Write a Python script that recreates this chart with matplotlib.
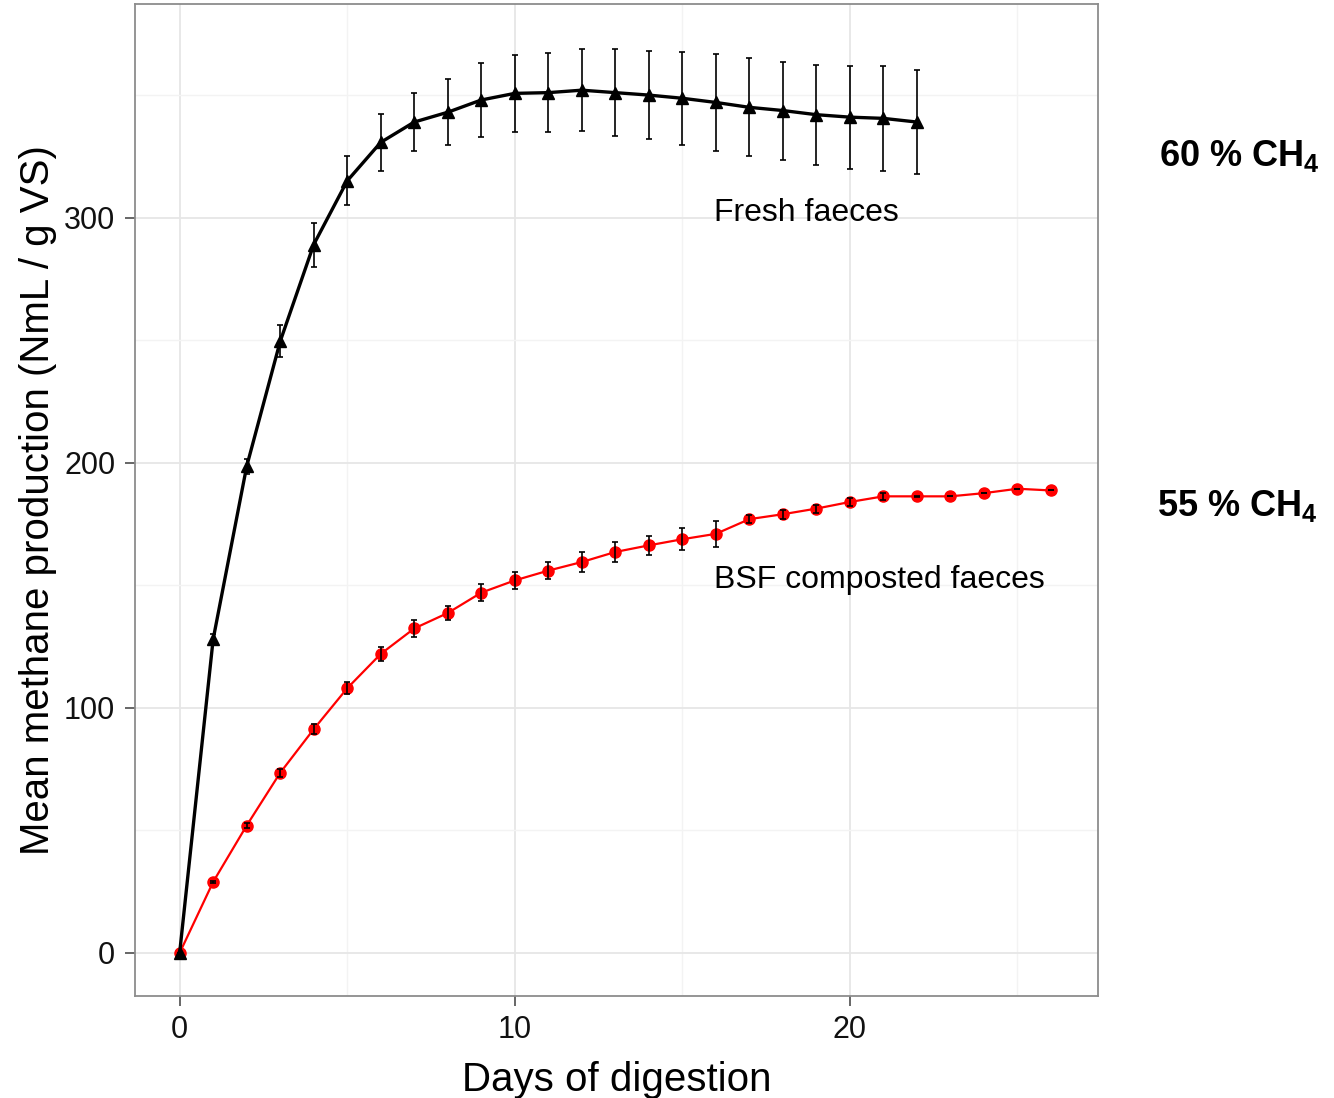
import numpy as np
import matplotlib
matplotlib.use("Agg")
import matplotlib.pyplot as plt

plt.rcParams['font.family'] = ['Liberation Sans', 'DejaVu Sans']
plt.rcParams['mathtext.fontset'] = 'custom'
plt.rcParams['mathtext.rm'] = 'Liberation Sans'
plt.rcParams['mathtext.bf'] = 'Liberation Sans:bold'
plt.rcParams['mathtext.default'] = 'bf'

# fresh faeces (black triangles)
fresh_days = list(range(0, 23))
fresh_mean = [0, 128, 198.5, 249.5, 289, 315, 330.7, 339, 343, 348, 350.7,
              351, 352, 351, 350, 348.7, 347, 345, 343.7, 342, 341, 340.5, 339]
fresh_err = [0, 2, 3, 6.5, 9, 10, 11.5, 12, 13.5, 15, 15.8,
             16, 16.7, 17.7, 18, 19, 19.7, 20, 20, 20.4, 21, 21.3, 21.3]

# BSF composted faeces (red circles)
bsf_days = list(range(0, 27))
bsf_mean = [0, 29, 52, 73.5, 91.3, 108, 122, 132.4, 138.7, 147, 152,
            156, 159.5, 163.6, 166.3, 168.8, 171, 177, 179, 181.3, 184,
            186.3, 186.3, 186.3, 187.6, 189.4, 188.7]
bsf_err = [0, 0.5, 1, 1.5, 2, 2.5, 3, 3.5, 3, 3.5, 3.5,
           3.6, 3.9, 4, 4, 4.4, 5.2, 1.7, 1.8, 1.6, 1.8, 1.4, 0.3,
           0, 0, 0, 0]

fig = plt.figure(figsize=(13.34, 10.98), dpi=100)
ax = fig.add_axes([0.101, 0.093, 0.722, 0.903])

ax.set_xlim(-1.34, 27.4)
ax.set_ylim(-17.5, 387)
ax.set_xticks([0, 10, 20])
ax.set_yticks([0, 100, 200, 300])
ax.set_xticks([5, 15, 25], minor=True)
ax.set_yticks([50, 150, 250, 350], minor=True)
ax.grid(which='major', color='#e6e6e6', lw=1.3, zorder=0)
ax.grid(which='minor', color='#f3f3f3', lw=1.0, zorder=0)
ax.tick_params(which='minor', length=0)
ax.tick_params(which='major', length=7, width=1.2, color='#4d4d4d',
               labelsize=22, labelcolor='#111111', pad=7)
for s in ax.spines.values():
    s.set_color('#8c8c8c')
    s.set_linewidth(1.3)

ax.plot(bsf_days, bsf_mean, color='red', lw=1.6, marker='o', ms=8,
        zorder=3)
ax.errorbar(bsf_days, bsf_mean, yerr=bsf_err, fmt='none', ecolor='black',
            elinewidth=1.2, capsize=2, capthick=1.2, zorder=4)

ax.plot(fresh_days, fresh_mean, color='black', lw=2.4, marker='^', ms=9,
        zorder=5)
ax.errorbar(fresh_days, fresh_mean, yerr=fresh_err, fmt='none',
            ecolor='black', elinewidth=1.2, capsize=2, capthick=1.2, zorder=6)

ax.text(15.95, 302, 'Fresh faeces', fontsize=23, ha='left', va='center')
ax.text(15.95, 152, 'BSF composted faeces', fontsize=23, ha='left',
        va='center')

ax.set_xlabel('Days of digestion', fontsize=29, labelpad=11)
ax.set_ylabel('Mean methane production (NmL / g VS)', fontsize=29,
              labelpad=5)

fig.text(0.869, 0.858, '60 % CH$_4$', fontsize=26, fontweight='bold',
         ha='left', va='center')
fig.text(0.867, 0.539, '55 % CH$_4$', fontsize=26, fontweight='bold',
         ha='left', va='center')

fig.savefig('out.png', dpi=100)
